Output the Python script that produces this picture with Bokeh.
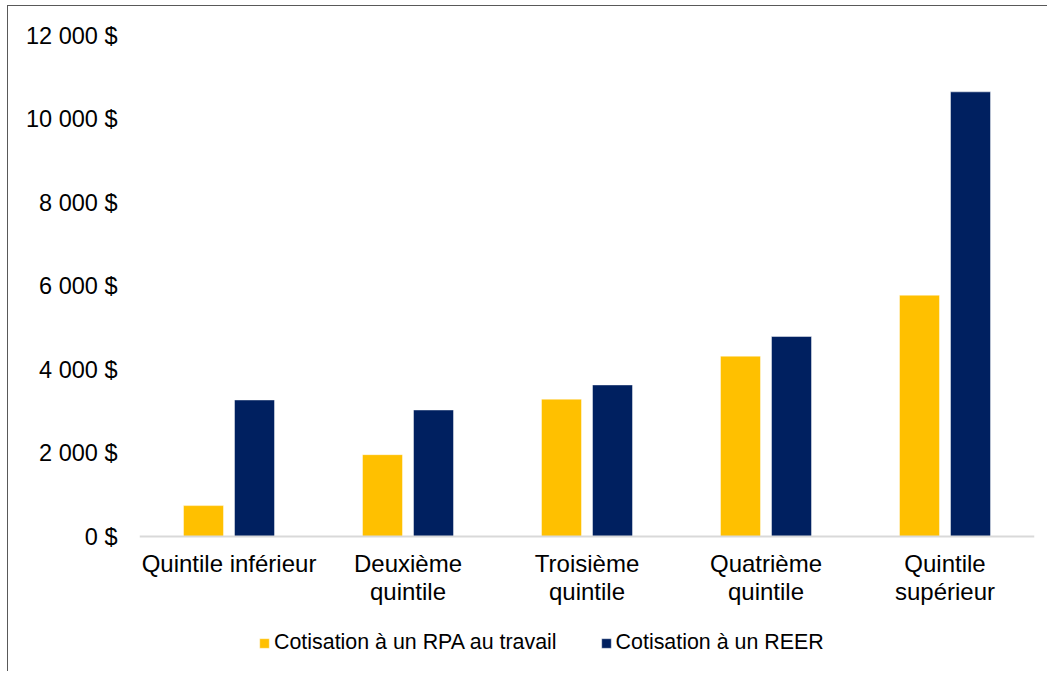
from bokeh.plotting import figure
from bokeh.models import (ColumnDataSource, FactorRange, Range1d, FixedTicker,
                          Legend, LegendItem, Span)
from bokeh.core.properties import value
from bokeh.transform import dodge
from bokeh.embed import file_html
from bokeh.resources import INLINE

categories = ["Quintile inférieur", "Deuxième quintile", "Troisième quintile",
              "Quatrième quintile", "Quintile supérieur"]
label_line1 = ["Quintile inférieur", "Deuxième", "Troisième", "Quatrième", "Quintile"]
label_line2 = ["", "quintile", "quintile", "quintile", "supérieur"]
rpa = [740, 1960, 3290, 4320, 5780]
reer = [3270, 3030, 3630, 4790, 10650]
y_ticks = [0, 2000, 4000, 6000, 8000, 10000, 12000]
y_tick_labels = ["0 $", "2 000 $", "4 000 $", "6 000 $", "8 000 $", "10 000 $", "12 000 $"]
series_names = ["Cotisation à un RPA au travail", "Cotisation à un REER"]

FONT = "Liberation Sans"

# layout: value axis spans 501 px for 0..12000; the frame continues 134 px below 0
PX_PER_UNIT = 501 / 12000
Y_MIN = -134 / PX_PER_UNIT

source = ColumnDataSource(dict(cat=categories, rpa=rpa, reer=reer,
                               base=[0] * len(categories),
                               l1=label_line1, l2=label_line2))

p = figure(x_range=FactorRange(*categories, range_padding=0),
           y_range=Range1d(Y_MIN, 12000),
           width=1040, height=666, output_backend="svg", toolbar_location=None,
           x_axis_location=None,
           min_border_left=131, min_border_right=14, min_border_top=29,
           min_border_bottom=2)
p.styles = {"border-left": "1px solid #595959", "border-top": "1px solid #595959",
            "margin-left": "7px", "margin-top": "5px"}

p.outline_line_color = None
p.xgrid.grid_line_color = None
p.ygrid.grid_line_color = None

r1 = p.vbar(x=dodge("cat", -0.1425, range=p.x_range), top="rpa", width=0.2235,
            source=source, fill_color="#FFC000", line_color="white", line_alpha=0.45,
            line_width=1)
r2 = p.vbar(x=dodge("cat", 0.1425, range=p.x_range), top="reer", width=0.2235,
            source=source, fill_color="#002060", line_color="white", line_alpha=0.45,
            line_width=1)

# category axis line at zero
p.add_layout(Span(location=0, dimension="width", line_color="#D9D9D9", line_width=2))

# category labels (two lines)
p.text(x="cat", y="base", text="l1", source=source, y_offset=27,
       text_align="center", text_baseline="middle", text_font=value(FONT),
       text_font_size=value("24px"), text_color="black")
p.text(x="cat", y="base", text="l2", source=source, y_offset=55,
       text_align="center", text_baseline="middle", text_font=value(FONT),
       text_font_size=value("24px"), text_color="black")

# y axis
ya = p.yaxis[0]
ya.ticker = FixedTicker(ticks=y_ticks)
ya.major_label_overrides = {t: l for t, l in zip(y_ticks, y_tick_labels)}
ya.axis_line_color = None
ya.major_tick_line_color = None
ya.minor_tick_line_color = None
ya.major_tick_out = 0
ya.major_tick_in = 0
ya.major_label_standoff = 22
ya.major_label_text_font = FONT
ya.major_label_text_font_size = "23.5px"
ya.major_label_text_color = "black"

legend = Legend(items=[LegendItem(label=series_names[0], renderers=[r1]),
                       LegendItem(label=series_names[1], renderers=[r2])],
                orientation="horizontal", location=(119, 15),
                glyph_width=12, glyph_height=12, label_standoff=4, spacing=43,
                label_height=24, padding=0, margin=0, border_line_color=None,
                background_fill_alpha=0, label_text_font=FONT,
                label_text_font_size="21.4px", label_text_color="black")
p.add_layout(legend, "center")

open("out.html", "w").write(file_html(p, INLINE))
